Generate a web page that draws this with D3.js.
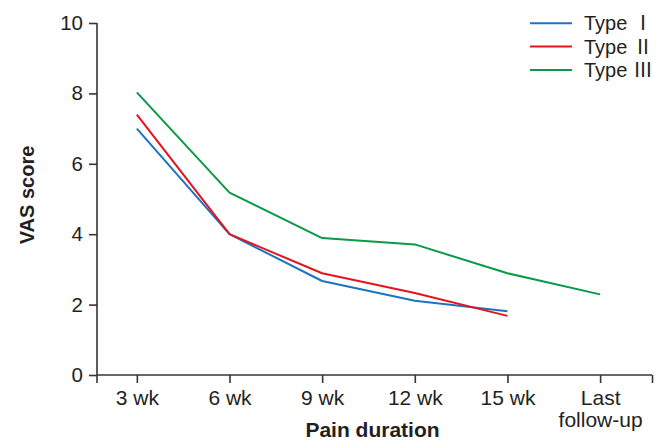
<!DOCTYPE html>
<html>
<head>
<meta charset="utf-8">
<script src="https://cdn.jsdelivr.net/npm/d3@7"></script>
<style>
  html, body { margin: 0; padding: 0; background: #fff; }
  svg text { font-family: "Liberation Sans", Arial, "Noto Sans CJK JP", sans-serif; fill: #231f20; }
</style>
</head>
<body>
<svg id="chart" width="658" height="440"></svg>
<script>
const categories = ["3 wk", "6 wk", "9 wk", "12 wk", "15 wk", "Last\nfollow-up"];
const typeI   = [7.0, 4.0, 2.67, 2.11, 1.81];
const typeII  = [7.4, 4.0, 2.89, 2.33, 1.68];
const typeIII = [8.03, 5.18, 3.89, 3.71, 2.89, 2.29];
const seriesNames = ["Type \u2160", "Type \u2161", "Type \u2162"];
const seriesColors = ["#1b74c1", "#e5131d", "#0a9a47"];
const yTicks = [0, 2, 4, 6, 8, 10];

const series = [typeI, typeII, typeIII].map((vals, k) => ({
  name: seriesNames[k], color: seriesColors[k], values: vals
}));

const svg = d3.select("#chart");
const axisColor = "#3a3432";

const x = d3.scaleLinear().domain([-0.43, 5.56]).range([97, 652]);
const y = d3.scaleLinear().domain([0, 10]).range([375, 23]);

// Y axis
const yAxis = svg.append("g")
  .attr("transform", `translate(${x(-0.43)},0)`)
  .call(d3.axisLeft(y).tickValues(yTicks).tickSize(8).tickPadding(6).tickSizeOuter(0));
yAxis.select(".domain").remove();
yAxis.append("line").attr("x1", 0).attr("x2", 0).attr("y1", y(10)).attr("y2", y(0) + 8)
  .attr("stroke", axisColor).attr("stroke-width", 1.6);
yAxis.selectAll(".tick line").attr("stroke", axisColor).attr("stroke-width", 1.6);
yAxis.selectAll(".tick text").attr("font-size", 20.5).attr("fill", "#231f20");

// X axis
const xTickVals = d3.range(categories.length);
const xAxis = svg.append("g")
  .attr("transform", `translate(0,${y(0)})`)
  .call(d3.axisBottom(x).tickValues([...xTickVals, 5.56]).tickSize(8).tickPadding(7)
    .tickSizeOuter(0).tickFormat(d => d > 5.5 ? "" : categories[d].split("\n")[0]));
xAxis.select(".domain").remove();
xAxis.append("line").attr("x1", x(-0.43)).attr("x2", x(5.56)).attr("y1", 0).attr("y2", 0)
  .attr("stroke", axisColor).attr("stroke-width", 1.6);
xAxis.selectAll(".tick line").attr("stroke", axisColor).attr("stroke-width", 1.6);
xAxis.selectAll(".tick text").attr("font-size", 21).attr("fill", "#231f20")
  .each(function(d) {
    if (d > 5.5) return;
    const parts = categories[d].split("\n");
    if (parts.length > 1) {
      const t = d3.select(this);
      t.text(null);
      parts.forEach((p, i) => {
        t.append("tspan").attr("x", 0).attr("dy", i === 0 ? "0.71em" : "1.05em").text(p);
      });
      t.attr("dy", null);
    }
  });

// Axis titles
svg.append("text")
  .attr("x", (x(-0.43) + x(5.56)) / 2 - 2).attr("y", 437)
  .attr("text-anchor", "middle").attr("font-size", 21).attr("font-weight", "bold")
  .text("Pain duration");
svg.append("text")
  .attr("transform", `translate(34,${(y(0) + y(10)) / 2 - 4}) rotate(-90)`)
  .attr("text-anchor", "middle").attr("font-size", 20).attr("font-weight", "bold")
  .text("VAS score");

// Lines
const line = d3.line().x((d, i) => x(i)).y(d => y(d));
svg.append("g").selectAll("path").data(series).join("path")
  .attr("d", s => line(s.values))
  .attr("fill", "none").attr("stroke", s => s.color).attr("stroke-width", 2)
  .attr("stroke-linejoin", "round");

// Legend
const legend = svg.append("g");
series.forEach((s, i) => {
  const yy = 23.3 + i * 23.3;
  legend.append("line").attr("x1", 530).attr("x2", 572).attr("y1", yy).attr("y2", yy)
    .attr("stroke", s.color).attr("stroke-width", 2);
  legend.append("text").attr("x", 584).attr("y", yy).attr("dy", "0.35em")
    .attr("font-size", 20).text(s.name);
});
</script>
</body>
</html>
